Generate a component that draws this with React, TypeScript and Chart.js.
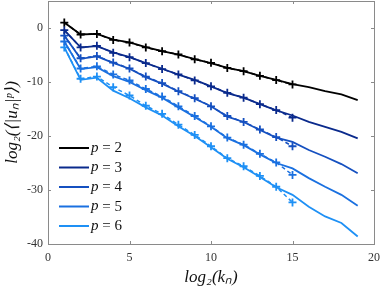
import React, { useEffect, useRef } from "react";
import { Chart, registerables } from "chart.js";

Chart.register(...registerables);

const knSolid = [1, 2, 3, 4, 5, 6, 7, 8, 9, 10, 11, 12, 13, 14, 15, 16, 17, 18, 19];
const knMarks = [1, 2, 3, 4, 5, 6, 7, 8, 9, 10, 11, 12, 13, 14, 15];

const pLabels = ["2", "3", "4", "5", "6"];
const colors = ["#000000", "#0a2a8c", "#1550c0", "#1a70e0", "#1e90f5"];

const p2Solid = [1.0, -1.2, -1.1, -2.15, -2.65, -3.55, -4.3, -4.95, -5.75, -6.5, -7.37, -8.0, -8.85, -9.6, -10.4, -10.95, -11.7, -12.3, -13.35];
const p3Solid = [-0.4, -3.6, -3.35, -4.5, -5.4, -6.5, -7.55, -8.65, -9.6, -10.8, -12.05, -12.9, -14.1, -15.25, -16.2, -17.4, -18.3, -19.25, -20.45];
const p4Solid = [-1.4, -5.7, -5.25, -6.45, -7.55, -9.1, -10.3, -11.75, -13.1, -14.5, -16.4, -17.4, -18.9, -20.3, -21.1, -22.6, -23.85, -25.2, -26.9];
const p5Solid = [-2.5, -7.6, -7.25, -8.9, -10.0, -11.5, -12.9, -14.7, -16.5, -18.3, -20.4, -21.7, -23.4, -25.0, -26.0, -27.8, -29.4, -30.9, -32.9];
const p6Solid = [-3.6, -9.6, -9.2, -11.6, -13.0, -14.7, -16.2, -18.2, -20.0, -22.1, -24.2, -25.8, -27.6, -29.5, -30.9, -33.1, -34.9, -36.1, -38.6];

const p2Marks = [1.0, -1.2, -1.1, -2.2, -2.7, -3.6, -4.3, -4.9, -5.8, -6.45, -7.4, -8.0, -8.85, -9.65, -10.45];
const p3Marks = [-0.4, -3.6, -3.3, -4.6, -5.4, -6.5, -7.6, -8.6, -9.7, -10.8, -12.0, -12.9, -14.1, -15.2, -16.6];
const p4Marks = [-1.4, -5.6, -5.2, -6.4, -7.5, -9.0, -10.2, -11.7, -13.0, -14.5, -16.3, -17.4, -18.8, -20.2, -21.9];
const p5Marks = [-2.5, -7.5, -7.1, -8.6, -9.7, -11.3, -12.7, -14.5, -16.3, -18.2, -20.3, -21.6, -23.3, -24.9, -27.2];
const p6Marks = [-3.6, -9.4, -9.0, -10.95, -12.5, -14.4, -15.9, -17.9, -19.8, -21.9, -24.1, -25.6, -27.4, -29.4, -32.3];

const solidSeries = [p2Solid, p3Solid, p4Solid, p5Solid, p6Solid];
const markSeries = [p2Marks, p3Marks, p4Marks, p5Marks, p6Marks];

const xTickValues = [0, 5, 10, 15, 20];
const yTickValues = [-40, -30, -20, -10, 0];

const frameColor = "#8a8a8a";
const textColor = "#333333";

const zeroPad = (s: any) => {
  s.paddingTop = 0;
  s.paddingBottom = 0;
  s.paddingLeft = 0;
  s.paddingRight = 0;
};

const framePlugin = {
  id: "frameTicks",
  afterDraw(chart: any) {
    const { ctx, chartArea } = chart;
    const xs = chart.scales.x;
    const ys = chart.scales.y;
    ctx.save();
    ctx.strokeStyle = frameColor;
    ctx.lineWidth = 1;
    ctx.strokeRect(
      Math.round(chartArea.left) + 0.5,
      Math.round(chartArea.top) + 0.5,
      Math.round(chartArea.right - chartArea.left),
      Math.round(chartArea.bottom - chartArea.top)
    );
    const tl = 3;
    ctx.beginPath();
    xTickValues.forEach((v) => {
      const px = Math.round(xs.getPixelForValue(v)) + 0.5;
      ctx.moveTo(px, chartArea.bottom);
      ctx.lineTo(px, chartArea.bottom - tl);
      ctx.moveTo(px, chartArea.top);
      ctx.lineTo(px, chartArea.top + tl);
    });
    yTickValues.forEach((v) => {
      const py = Math.round(ys.getPixelForValue(v)) + 0.5;
      ctx.moveTo(chartArea.left, py);
      ctx.lineTo(chartArea.left + tl, py);
      ctx.moveTo(chartArea.right, py);
      ctx.lineTo(chartArea.right - tl, py);
    });
    ctx.stroke();

    // legend
    const rowY = [148, 167.5, 187, 206.5, 226];
    pLabels.forEach((lab, i) => {
      const y = rowY[i];
      ctx.strokeStyle = colors[i];
      ctx.lineWidth = 2;
      ctx.setLineDash([]);
      ctx.beginPath();
      ctx.moveTo(59, y);
      ctx.lineTo(89, y);
      ctx.stroke();
      ctx.fillStyle = "#111";
      ctx.textBaseline = "middle";
      ctx.textAlign = "left";
      ctx.font = "italic 15px 'Liberation Serif'";
      ctx.fillText("p", 91, y);
      const w = ctx.measureText("p").width;
      ctx.font = "15px 'Liberation Serif'";
      ctx.fillText(" = " + lab, 91 + w, y + 0.5);
    });
    ctx.restore();
  },
};

export default function App() {
  const ref = useRef<HTMLCanvasElement | null>(null);
  useEffect(() => {
    document.body.style.margin = "0";
    const datasets: any[] = [];
    solidSeries.forEach((s, i) => {
      datasets.push({
        label: "p = " + pLabels[i],
        data: s.map((v, j) => ({ x: knSolid[j], y: v })),
        borderColor: colors[i],
        backgroundColor: colors[i],
        borderWidth: 1.8,
        pointRadius: 0,
        tension: 0,
        order: 1,
      });
    });
    markSeries.forEach((s, i) => {
      datasets.push({
        label: "data p = " + pLabels[i],
        data: s.map((v, j) => ({ x: knMarks[j], y: v })),
        borderColor: colors[i],
        backgroundColor: colors[i],
        borderWidth: 1.5,
        borderDash: [4, 3],
        pointStyle: "cross",
        pointRadius: 4,
        pointBorderWidth: 1.8,
        pointBorderColor: colors[i],
        tension: 0,
        order: 2,
      });
    });
    const chart = new Chart(ref.current as HTMLCanvasElement, {
      type: "line",
      data: { datasets },
      options: {
        animation: false,
        responsive: false,
        layout: { autoPadding: false, padding: { top: 1, right: 7, left: 0, bottom: 0 } },
        plugins: { legend: { display: false }, tooltip: { enabled: false } },
        scales: {
          x: {
            type: "linear",
            min: 0,
            max: 20,
            grid: { display: false, drawTicks: false },
            border: { display: false },
            ticks: {
              stepSize: 5,
              padding: 7,
              color: textColor,
              font: { family: "'Liberation Serif'", size: 12 },
            },
            title: {
              display: true,
              text: "log₂(kₙ)",
              color: "#111",
              font: { family: "'Liberation Serif'", size: 17, style: "italic" },
              padding: { top: 0, bottom: 2 },
            },
            afterFit: (s: any) => {
              s.height = 46;
              zeroPad(s);
            },
          },
          y: {
            type: "linear",
            min: -40,
            max: 5,
            grid: { display: false, drawTicks: false },
            border: { display: false },
            afterBuildTicks: (s: any) => {
              s.ticks = yTickValues.map((v) => ({ value: v }));
            },
            ticks: {
              padding: 5,
              color: textColor,
              font: { family: "'Liberation Serif'", size: 12 },
            },
            title: {
              display: true,
              text: "log₂(⟨|uₙ|ᵖ⟩)",
              color: "#111",
              font: { family: "'Liberation Serif'", size: 17, style: "italic" },
              padding: { top: 2, bottom: 0 },
            },
            afterFit: (s: any) => {
              s.width = 48;
              zeroPad(s);
            },
          },
        },
      },
      plugins: [framePlugin],
    } as any);
    return () => chart.destroy();
  }, []);
  return (
    <div style={{ position: "absolute", left: 0, top: 0, width: 381, height: 290 }}>
      <canvas ref={ref} width={381} height={290} />
    </div>
  );
}
